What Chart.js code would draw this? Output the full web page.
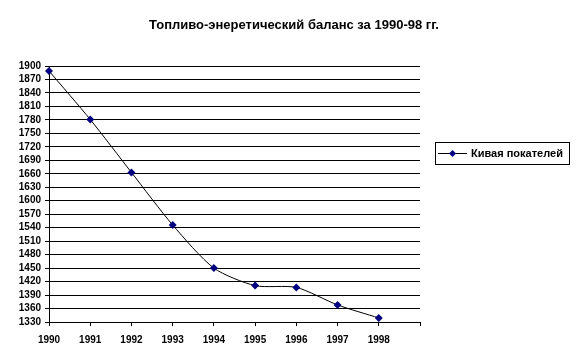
<!DOCTYPE html>
<html><head><meta charset="utf-8">
<script src="https://cdn.jsdelivr.net/npm/chart.js@4"></script>
<style>html,body{margin:0;padding:0;background:#fff}#w{width:586px;height:364px}</style>
</head><body><div id="w"><canvas id="c" width="586" height="364"></canvas></div>
<script>
const titleText = 'Топливо-энеретический баланс за 1990-98 гг.';
const categories = ['1990','1991','1992','1993','1994','1995','1996','1997','1998',''];
const seriesName = 'Кивая покателей';
const values = [1889, 1781, 1663, 1546, 1450, 1411, 1407, 1368, 1339];
const yMin = 1330, yMax = 1900, yStep = 30;

const FONT = '"Liberation Sans", Arial, sans-serif';

const titlePlugin = {
  id: 'titleP',
  afterDraw(chart) {
    const ctx = chart.ctx;
    ctx.save();
    ctx.font = 'bold 13px ' + FONT;
    ctx.fillStyle = '#000';
    ctx.textAlign = 'center';
    ctx.textBaseline = 'middle';
    ctx.fillText(titleText, 294, 25);
    ctx.restore();
  }
};
const legendPlugin = {
  id: 'legendP',
  afterDraw(chart) {
    const ctx = chart.ctx;
    const ds = chart.data.datasets[0];
    ctx.save();
    ctx.strokeStyle = '#000';
    ctx.lineWidth = 1;
    ctx.strokeRect(435.5, 142.5, 134, 22);
    ctx.beginPath();
    ctx.moveTo(438, 153.5); ctx.lineTo(467, 153.5); ctx.stroke();
    ctx.fillStyle = '#000080';
    ctx.beginPath();
    ctx.moveTo(452.5, 150); ctx.lineTo(456, 153.5); ctx.lineTo(452.5, 157); ctx.lineTo(449, 153.5); ctx.closePath(); ctx.fill();
    ctx.font = 'bold 11px ' + FONT;
    ctx.fillStyle = '#000';
    ctx.textAlign = 'left';
    ctx.textBaseline = 'middle';
    ctx.fillText(ds.label, 471, 154);
    ctx.restore();
  }
};

new Chart(document.getElementById('c'), {
  type: 'line',
  data: {
    labels: categories,
    datasets: [{
      label: seriesName,
      data: values,
      borderColor: '#000',
      borderWidth: 1,
      tension: 0.25,
      pointStyle: 'rectRot',
      pointRadius: 4,
      pointBackgroundColor: '#000080',
      pointBorderColor: '#000080',
      pointBorderWidth: 0,
      fill: false
    }]
  },
  options: {
    responsive: false,
    animation: false,
    devicePixelRatio: 1,
    layout: { padding: { left: 0, right: 166, top: 66, bottom: 0 } },
    plugins: { legend: { display: false }, title: { display: false }, tooltip: { enabled: false } },
    scales: {
      x: {
        type: 'category',
        offset: false,
        afterFit(s) { s.height = 42; },
        grid: { drawOnChartArea: false, drawTicks: true, tickLength: 4, color: '#000' },
        border: { color: '#000', width: 1 },
        ticks: { color: '#000', font: { family: FONT, size: 10, weight: 'bold' }, maxRotation: 0, autoSkip: false, padding: 8 }
      },
      y: {
        min: yMin, max: yMax,
        afterFit(s) { s.width = 49; },
        grid: { color: '#000', drawTicks: true, tickLength: 4 },
        border: { color: '#000', width: 1 },
        ticks: { stepSize: yStep, color: '#000', font: { family: FONT, size: 10, weight: 'bold' }, padding: 4, autoSkip: false,
                 callback: (v) => String(v) }
      }
    }
  },
  plugins: [titlePlugin, legendPlugin]
});
</script></body></html>
